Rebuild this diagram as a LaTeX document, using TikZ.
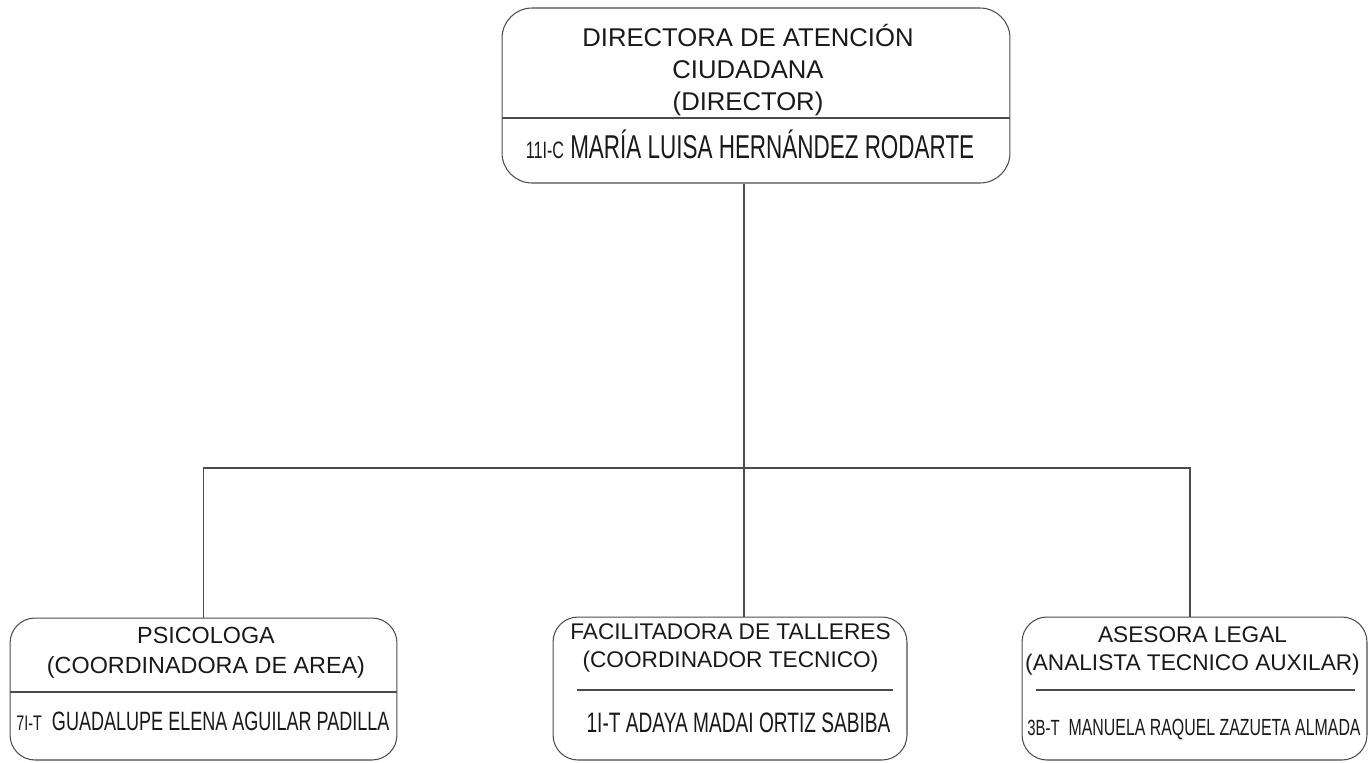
\documentclass[tikz,border=0pt]{standalone}
\usepackage{fontspec}
\setmainfont{Liberation Sans}
\newfontfamily\angosta[FakeStretch=0.68]{Liberation Sans}
\usetikzlibrary{positioning}
\tikzset{
caja/.style={ % Rounded boxes of the chart
draw=black!70,
line width=0.6pt,
rounded corners=0.5cm,
inner sep=0pt},
linea/.style={ % Connectors and dividers
draw=black!70,
line width=0.6pt},
titulo/.style={ % Post names
align=center,
text=black!90,
inner sep=0pt},
nombre/.style={ % Code and person name, narrow type
anchor=base,
text=black!90,
inner sep=0pt}}

\begin{document}
\begin{tikzpicture}[x=0.02cm, y=-0.02cm]
	\useasboundingbox (0,0) rectangle (1368,762);

	\node[caja, rounded corners=0.6cm, minimum width=10.16cm, minimum height=3.5cm] (dir) at (756,95.5) {};
	\node[caja, minimum width=7.74cm, minimum height=2.84cm] (psi) at (203.5,689) {};
	\node[caja, minimum width=7.08cm, minimum height=2.86cm] (fac) at (730,688.5) {};
	\node[caja, minimum width=6.9cm, minimum height=2.86cm] (ase) at (1194.5,688.5) {};

	\node[titulo, font=\fontsize{14.6}{18.2}\selectfont] (dirT) at (748,70.5) {DIRECTORA DE ATENCIÓN\\CIUDADANA\\(DIRECTOR)};
	\draw[linea] (502,118) -- (1010,118);
	\node[nombre, font=\angosta\fontsize{18.8}{21}\selectfont] (dirN) at (750,158) {{\fontsize{13.5}{14}\selectfont 11I-C} MARÍA LUISA HERNÁNDEZ RODARTE};

	\node[titulo, font=\fontsize{13.3}{17}\selectfont] (psiT) at (206,653) {PSICOLOGA\\(COORDINADORA DE AREA)};
	\draw[linea] (10,692) -- (397,692);
	\node[nombre, font=\angosta\fontsize{15.1}{16}\selectfont] (psiN) at (203,730) {{\fontsize{12}{12}\selectfont 7I-T}\ \ GUADALUPE ELENA AGUILAR PADILLA};

	\node[titulo, font=\fontsize{12.9}{16}\selectfont] (facT) at (730.5,648) {FACILITADORA DE TALLERES\\(COORDINADOR TECNICO)};
	\draw[linea] (577,690) -- (893,690);
	\node[nombre, font=\angosta\fontsize{16}{17}\selectfont] (facN) at (738.5,732) {1I-T ADAYA MADAI ORTIZ SABIBA};

	\node[titulo, font=\fontsize{12.9}{16}\selectfont] (aseT) at (1192.5,651) {ASESORA LEGAL\\(ANALISTA TECNICO AUXILAR)};
	\draw[linea] (1036,690) -- (1355,690);
	\node[nombre, font=\angosta\fontsize{13.3}{14}\selectfont] (aseN) at (1194,735) {{\fontsize{12.5}{13}\selectfont 3B-T}\ \ MANUELA RAQUEL ZAZUETA ALMADA};

	% lines between the posts
	\coordinate (bus) at (744,468);
	\coordinate (busR) at (1190,468);
	\draw[linea] (dir.south -| bus) -- (fac.north -| bus);
	\draw[linea] (psi.north) |- (busR) -- (busR |- ase.north);
\end{tikzpicture}
\end{document}
